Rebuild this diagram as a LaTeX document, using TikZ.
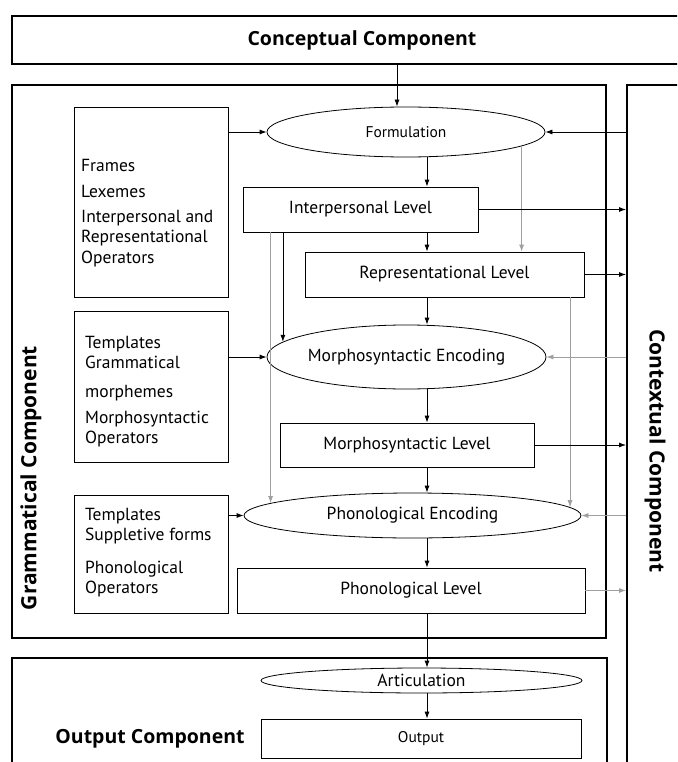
\documentclass[tikz,border=0pt]{standalone}
\usepackage{fontspec}
\setmainfont{PT Sans}
\newfontfamily\titlefont{Open Sans}
\usetikzlibrary{shapes.geometric,arrows.meta}

\begin{document}
\begin{tikzpicture}[x=1pt, y=-1pt, >={Latex[length=7pt,width=5pt]},
    comp/.style={draw, line width=2pt, inner sep=0pt},
    title/.style={font=\titlefont\fontsize{#1}{#1}\selectfont\bfseries},
    title/.default=19.5,
    lvl/.style={draw, line width=.8pt, inner sep=0pt, minimum height=45pt,
      font=\fontsize{17.5}{20}\selectfont},
    proc/.style={ellipse, draw, line width=.8pt, inner sep=0pt,
      font=\fontsize{17.5}{20}\selectfont},
    lexbox/.style={draw, line width=.8pt, minimum width=154pt},
    lextxt/.style={anchor=west, inner sep=0pt, text height=12.5pt, text depth=3.5pt,
      font=\fontsize{17.5}{20}\selectfont},
    arr/.style={->, line width=.8pt},
    garr/.style={->, line width=.8pt, gray!75}]
  \clip (0,0) rectangle (677,762);

  % components
  \node (concept) [comp, title, minimum width=700pt, minimum height=48pt] at (362,40) {Conceptual Component};
  \node (gram) [comp, minimum width=594pt, minimum height=553pt] at (309,361.5) {};
  \node (context) [comp, minimum width=100pt, minimum height=720pt] at (677,445) {};
  \node (output) [comp, minimum width=595pt, minimum height=140pt] at (309.5,728) {};
  \node (gramlbl) [title=21, rotate=90] at (31,478) {Grammatical Component};
  \node (ctxlbl) [title=21, rotate=-90] at (655,451) {Contextual Component};
  \node (outlbl) [title] at (150,739) {Output Component};

  % primitives
  \node (lex1) [lexbox, minimum height=190pt] at (151,202) {};
  \node (lex2) [lexbox, minimum height=151pt] at (151,386.5) {};
  \node (lex3) [lexbox, minimum height=118pt] at (151,554) {};
  \foreach \t/\y [count=\i] in {Frames/167, Lexemes/193, Interpersonal and/218,
      Representational/238, Operators/259}
    \node (lexa-\i) [lextxt] at (81,\y) {\t};
  \foreach \t/\y [count=\i] in {Templates/344, Grammatical/364, morphemes/393,
      Morphosyntactic/419, Operators/439}
    \node (lexb-\i) [lextxt] at (85,\y) {\t};
  \foreach \t/\y [count=\i] in {Templates/516, Suppletive forms/536,
      Phonological/569, Operators/589}
    \node (lexc-\i) [lextxt] at (85,\y) {\t};

  % operations and levels
  \node (form) [proc, minimum width=278pt, minimum height=50pt, font=\fontsize{15.5}{18}\selectfont] at (406,132) {Formulation};
  \node (il) [lvl, minimum width=235pt] at (360.5,209.5) {Interpersonal Level};
  \node (rl) [lvl, minimum width=279pt] at (444.5,274.5) {Representational Level};
  \node (me) [proc, minimum width=267pt, minimum height=64pt] at (406.5,357) {Morphosyntactic Encoding};
  \node (ml) [lvl, minimum width=254pt, minimum height=44pt] at (407,445) {Morphosyntactic Level};
  \node (pe) [proc, minimum width=337pt, minimum height=45pt] at (412.5,515.5) {Phonological Encoding};
  \node (pl) [lvl, minimum width=348pt] at (411,590.5) {Phonological Level};
  \node (art) [proc, minimum width=321pt, minimum height=25pt] at (421.5,680.5) {Articulation};
  \node (out) [lvl, minimum width=320pt, minimum height=39pt, font=\fontsize{15.5}{18}\selectfont] at (421,738.5) {Output};
  \coordinate (spine) at (427,0);

  % main line
  \draw[arr] ([xshift=-9pt]form.north |- concept.south) -- ([xshift=-9pt]form.north);
  \draw[arr] (form.south -| spine) -- (il.north -| spine);
  \draw[arr] (il.south -| spine) -- (rl.north -| spine);
  \draw[arr] (rl.south -| spine) -- (me.north -| spine);
  \draw[arr] (me.south -| spine) -- (ml.north -| spine);
  \draw[arr] (ml.south -| spine) -- (pe.north -| spine);
  \draw[arr] (pe.south -| spine) -- (pl.north -| spine);
  \draw[arr] (pl.south -| spine) -- (art.north -| spine);
  \draw[arr] (art.south -| spine) -- (out.north -| spine);

  % primitives in
  \draw[arr] (lex1.east |- form.west) -- (form.west);
  \draw[arr] (lex2.east |- me.west) -- (me.west);
  \draw[arr] (lex3.east |- pe.west) -- (pe.west);

  % short cuts
  \draw[garr] (form.-7) -- (form.-7 |- rl.north);
  \draw[arr] (me.173 |- il.south) -- (me.173);
  \draw[garr] (pe.175.5 |- il.south) -- (pe.175.5);
  \draw[garr] (pe.3.5 |- rl.south) -- (pe.3.5);

  % to and from context
  \draw[arr] (form.east -| context.west) -- (form.east);
  \draw[arr] (il.east) -- (il.east -| context.west);
  \draw[arr] (rl.east) -- (rl.east -| context.west);
  \draw[garr] (me.east -| context.west) -- (me.east);
  \draw[arr] (ml.east) -- (ml.east -| context.west);
  \draw[garr] (pe.east -| context.west) -- (pe.east);
  \draw[garr] (pl.east) -- (pl.east -| context.west);
\end{tikzpicture}
\end{document}
